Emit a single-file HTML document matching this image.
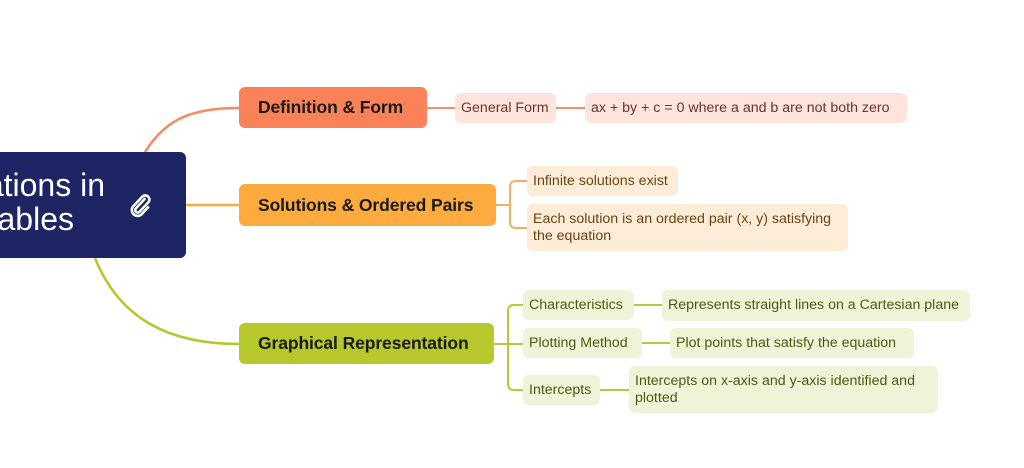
<!DOCTYPE html>
<html><head><meta charset="utf-8"><style>
html,body{margin:0;padding:0;background:#fff;}
body{width:1024px;height:468px;position:relative;overflow:hidden;font-family:"Liberation Sans",sans-serif;}
.b{position:absolute;box-sizing:border-box;border-radius:6px;}
.m{display:flex;align-items:center;padding-left:19px;font-size:17.5px;font-weight:bold;color:#1a1a1a;letter-spacing:-0.1px;white-space:nowrap;}
.s{display:flex;align-items:center;padding:0 6px;font-size:14.2px;line-height:17px;border-radius:6px;white-space:nowrap;}
.o{background:#fde4dc;color:#6b3426;}
.y{background:#fdedd8;color:#6b4212;}
.g{background:#eff3d8;color:#4b5a12;}
.t{position:absolute;color:#fff;font-size:32px;line-height:34px;white-space:nowrap;text-align:right;}
</style></head><body>
<svg width="1024" height="468" style="position:absolute;left:0;top:0" fill="none">
<path d="M145 152 C165 120,190 108,239 108" stroke="#f58a66" stroke-width="2.5"/>
<path d="M186 205 H239" stroke="#fba83f" stroke-width="2.5"/>
<path d="M95 258 C120 320,170 344,239 344" stroke="#b5c72a" stroke-width="2.5"/>
<path d="M427 108 H455 M556 108 H585" stroke="#e8906f" stroke-width="2"/>
<path d="M496 205 H510 M527 181 H516 Q510 181 510 187 V222 Q510 228 516 228 H527" stroke="#f4b060" stroke-width="2"/>
<path d="M494 344 H523 M523 305 H514 Q508 305 508 311 V384 Q508 390 514 390 H523" stroke="#b7c83a" stroke-width="2"/>
<path d="M634 305 H662 M642 343 H670 M600 390 H629" stroke="#b7c83a" stroke-width="2"/>
</svg>
<div class="b" style="left:0;top:152px;width:186px;height:106px;background:#1e2564;border-radius:0 6px 6px 0;overflow:hidden;">
<div class="t" style="right:81px;top:16px;">Equations in</div>
<div class="t" style="right:112px;top:50px;">Variables</div>
</div>
<svg style="position:absolute;left:126px;top:192px" width="28" height="28" viewBox="0 0 24 24" fill="none" stroke="#fff" stroke-width="2.2" stroke-linecap="round"><path d="M16 6 L8.5 14 a2 2 0 0 0 3 3 L19 9 a3.5 3.5 0 0 0 -5 -5 L6 12.5 a5 5 0 0 0 7 7 L19 13"/></svg>
<div class="b m" style="left:239px;top:87px;width:188px;height:41px;background:#f98259;">Definition &amp; Form</div>
<div class="b m" style="left:239px;top:184px;width:257px;height:42px;background:#fdab3e;">Solutions &amp; Ordered Pairs</div>
<div class="b m" style="left:239px;top:323px;width:255px;height:41px;background:#b6c82b;">Graphical Representation</div>
<div class="b s o" style="left:455px;top:93px;width:101px;height:30px;">General Form</div>
<div class="b s o" style="left:585px;top:93px;width:322px;height:30px;">ax + by + c = 0 where a and b are not both zero</div>
<div class="b s y" style="left:527px;top:166px;width:151px;height:30px;">Infinite solutions exist</div>
<div class="b s y" style="left:527px;top:204px;width:321px;height:47px;">Each solution is an ordered pair (x, y) satisfying<br>the equation</div>
<div class="b s g" style="left:523px;top:290px;width:111px;height:30px;">Characteristics</div>
<div class="b s g" style="left:662px;top:290px;width:308px;height:31px;">Represents straight lines on a Cartesian plane</div>
<div class="b s g" style="left:523px;top:328px;width:119px;height:30px;">Plotting Method</div>
<div class="b s g" style="left:670px;top:328px;width:244px;height:30px;">Plot points that satisfy the equation</div>
<div class="b s g" style="left:523px;top:375px;width:77px;height:30px;">Intercepts</div>
<div class="b s g" style="left:629px;top:366px;width:309px;height:47px;">Intercepts on x-axis and y-axis identified and<br>plotted</div>
</body></html>
